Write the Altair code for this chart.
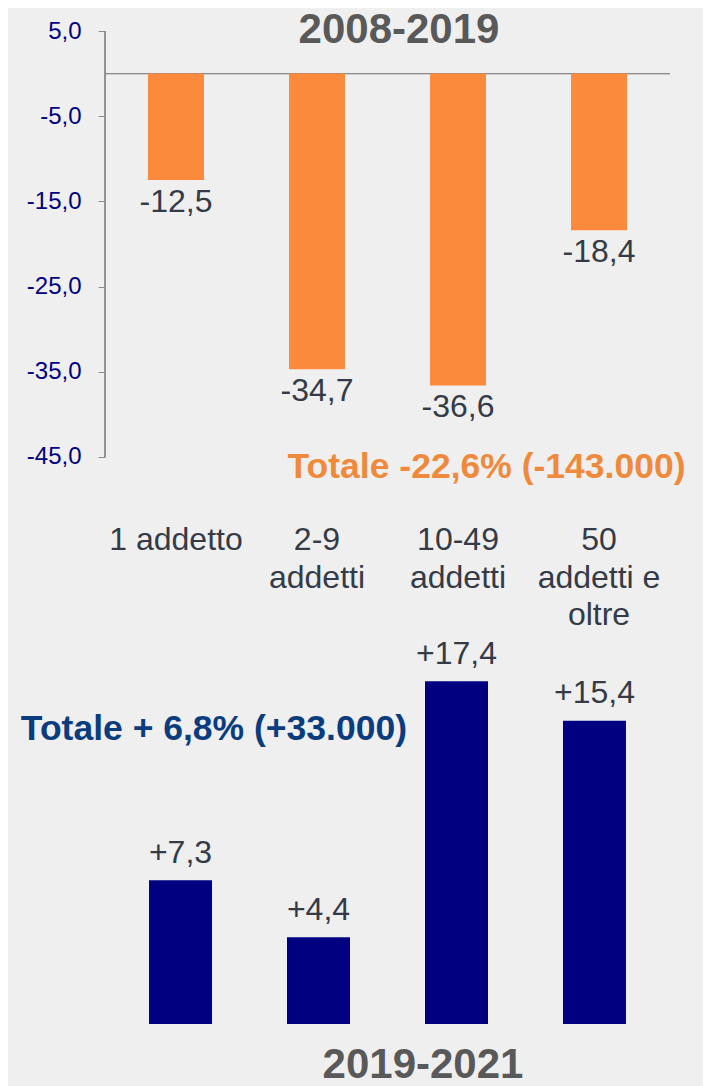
import altair as alt
import pandas as pd

FONT = "Liberation Sans"
DARK = "#343b47"
GRAY = "#8c8c8c"

categories = ["1 addetto", "2-9|addetti", "10-49|addetti", "50|addetti e|oltre"]
change_2008_2019 = [-12.5, -34.7, -36.6, -18.4]
change_2019_2021 = [7.3, 4.4, 17.4, 15.4]
y_ticks = [5, -5, -15, -25, -35, -45]
period_top = ["2008-2019"]
period_bottom = ["2019-2021"]
total_top = ["Totale -22,6% (-143.000)"]
total_bottom = ["Totale + 6,8% (+33.000)"]

top_df = pd.DataFrame({"cat": categories, "v": change_2008_2019})
bot_df = pd.DataFrame({"cat": categories, "v": change_2019_2021})

lab_expr = "replace(format(abs(datum.v), '.1f'), '.', ',')"

# one plot area shared by both panels, each panel with its own scales
TOP_DOMAIN = [-111.55, 5]      # 2008-2019 panel occupies the upper part
BOT_DOMAIN = [0, 50.41]        # 2019-2021 panel occupies the lower part

# ---------------- top panel (2008-2019) ----------------
x_top = alt.X("cat:N", sort=categories,
              scale=alt.Scale(paddingInner=0.603, paddingOuter=0.305), axis=None)
y_top = alt.Y(
    "v:Q",
    scale=alt.Scale(domain=TOP_DOMAIN, nice=False, zero=False),
    axis=alt.Axis(title=None, values=y_ticks, grid=False, domain=False,
                  labelExpr="replace((datum.value < 0 ? '-' : '') + format(abs(datum.value), '.1f'), '.', ',')",
                  tickColor=GRAY, tickSize=7, labelPadding=17,
                  labelFont=FONT, labelFontSize=24, labelColor="#000080"),
)

top_base = alt.Chart(top_df)
top_bars = top_base.mark_bar(color="#fb8a3c").encode(x=x_top, y=y_top, y2=alt.datum(0))
top_zero = top_base.mark_rule(color=GRAY, strokeWidth=1).encode(y=alt.datum(0))
top_axisline = top_base.mark_rule(color=GRAY, strokeWidth=1).encode(
    x=alt.value(0), y=alt.datum(y_ticks[0]), y2=alt.datum(y_ticks[-1]))
top_labels = top_base.transform_calculate(lab="'-' + " + lab_expr).mark_text(
    baseline="middle", dy=21.5, font=FONT, fontSize=32, color=DARK
).encode(x=x_top, y="v:Q", text="lab:N")
top_cats = top_base.mark_text(
    baseline="top", dy=68.5, font=FONT, fontSize=32, color=DARK,
    lineBreak="|", lineHeight=37.5
).encode(x=x_top, y=alt.datum(y_ticks[-1]), text="cat:N")
top_title = alt.Chart(pd.DataFrame({"t": period_top})).mark_text(
    font=FONT, fontSize=42, fontWeight="bold", color="#595959", baseline="middle",
    dx=-59, dy=-1.5
).encode(x=alt.datum(categories[2]), y=alt.datum(y_ticks[0]), text="t:N")
top_total = alt.Chart(pd.DataFrame({"t": total_top})).mark_text(
    font=FONT, fontSize=35.5, fontWeight="bold", color="#ef8a3c", baseline="middle",
    dx=-112.5, dy=10
).encode(x=alt.datum(categories[3]), y=alt.datum(y_ticks[-1]), text="t:N")

top = alt.layer(top_axisline, top_zero, top_bars, top_labels, top_cats, top_title, top_total)

# ---------------- bottom panel (2019-2021) ----------------
x_bot = alt.X("cat:N", sort=categories,
              scale=alt.Scale(paddingInner=0.5435, paddingOuter=0.319), axis=None)
y_bot = alt.Y("v:Q", scale=alt.Scale(domain=BOT_DOMAIN, nice=False), axis=None)

bot_base = alt.Chart(bot_df)
bot_bars = bot_base.mark_bar(color="#000080").encode(x=x_bot, y=y_bot, y2=alt.datum(0))
bot_labels = bot_base.transform_calculate(lab="'+' + " + lab_expr).mark_text(
    baseline="middle", dy=-27.5, font=FONT, fontSize=32, color=DARK
).encode(x=x_bot, y=y_bot, text="lab:N")
bot_title = alt.Chart(pd.DataFrame({"t": period_bottom})).mark_text(
    font=FONT, fontSize=42, fontWeight="bold", color="#595959", baseline="middle",
    dx=-33.5, dy=40.5
).encode(x=alt.datum(categories[2]), y=alt.datum(0), text="t:N")
bot_total = alt.Chart(pd.DataFrame({"t": total_bottom})).mark_text(
    font=FONT, fontSize=35.5, fontWeight="bold", color="#0b3c7d", baseline="middle",
    dx=33.4, dy=0
).encode(x=alt.datum(categories[0]), y=alt.datum(15), text="t:N")

bottom = alt.layer(bot_bars, bot_labels, bot_title, bot_total)

chart = alt.layer(top, bottom).resolve_scale(x="independent", y="independent").properties(
    width=565, height=993,
    background="#efefef",
    autosize=alt.AutoSizeParams(type="none"),
    padding={"left": 97, "top": 23, "right": 33, "bottom": 62},
).configure_view(stroke=None)

chart.save("out.html", embed_options={"renderer": "svg", "actions": False})
